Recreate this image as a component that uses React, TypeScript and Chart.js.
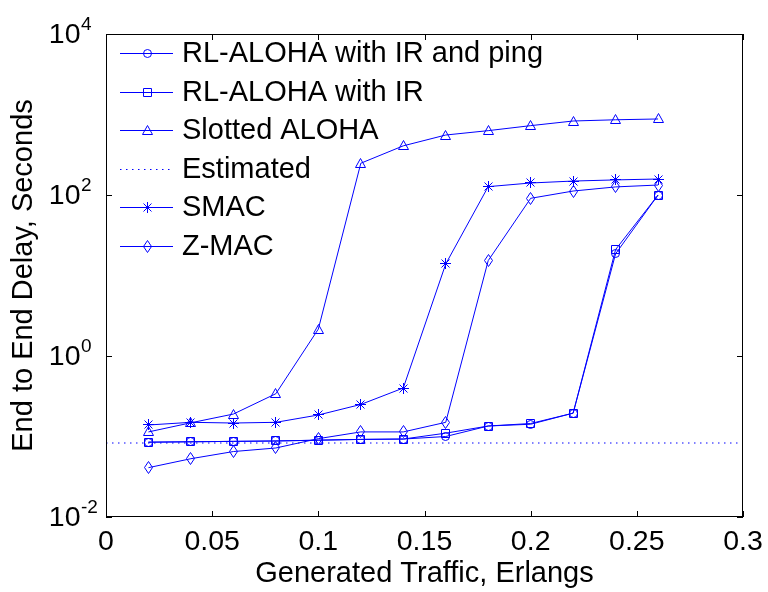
import React, { useEffect, useRef } from 'react';
import { Chart, registerables } from 'chart.js';

Chart.register(...registerables);

// ---- data ----
const traffic = [0.02, 0.04, 0.06, 0.08, 0.1, 0.12, 0.14, 0.16, 0.18, 0.2, 0.22, 0.24, 0.26];
const rlAlohaIrPing = [0.085, 0.086, 0.087, 0.088, 0.09, 0.092, 0.093, 0.1, 0.135, 0.142, 0.195, 18.6, 100];
const rlAlohaIr = [0.085, 0.086, 0.087, 0.088, 0.09, 0.092, 0.093, 0.11, 0.135, 0.145, 0.195, 21, 100];
const slottedAloha = [0.114, 0.148, 0.19, 0.34, 2.16, 248, 408, 556, 630, 727, 830, 860, 880];
const estimatedX = [0, 0.3];
const estimatedY = [0.083, 0.083];
const smac = [0.139, 0.15, 0.147, 0.15, 0.185, 0.25, 0.4, 13.9, 127, 141, 149, 154, 158];
const zmac = [0.041, 0.053, 0.065, 0.072, 0.094, 0.114, 0.114, 0.15, 15.3, 91, 112, 126, 133];

const seriesLabels = ['RL-ALOHA with IR and ping', 'RL-ALOHA with IR', 'Slotted ALOHA', 'Estimated', 'SMAC', 'Z-MAC'];

const xTicks = [0, 0.05, 0.1, 0.15, 0.2, 0.25, 0.3];
const xTickLabels = ['0', '0.05', '0.1', '0.15', '0.2', '0.25', '0.3'];
const yTicks = [0.01, 1, 100, 10000];
const yTickExponents = ['-2', '0', '2', '4'];

const BLUE = '#0000ff';
const FONT = "'Liberation Sans', Arial, sans-serif";
const FS = 29;
const TICK_FS = 28.5;

function makeMarker(kind: string): HTMLCanvasElement {
  const c = document.createElement('canvas');
  c.width = 15;
  c.height = 15;
  const g = c.getContext('2d')!;
  g.strokeStyle = BLUE;
  g.lineWidth = 1;
  g.beginPath();
  if (kind === 'circle') {
    g.arc(7.5, 7.5, 4, 0, Math.PI * 2);
  } else if (kind === 'square') {
    g.rect(3.5, 3.5, 8, 8);
  } else if (kind === 'triangle') {
    g.moveTo(7.5, 2.5);
    g.lineTo(12.5, 11.5);
    g.lineTo(2.5, 11.5);
    g.closePath();
  } else if (kind === 'asterisk') {
    g.moveTo(7.5, 2);
    g.lineTo(7.5, 13);
    g.moveTo(2, 7.5);
    g.lineTo(13, 7.5);
    g.moveTo(3.5, 3.5);
    g.lineTo(11.5, 11.5);
    g.moveTo(11.5, 3.5);
    g.lineTo(3.5, 11.5);
  } else if (kind === 'diamond') {
    g.moveTo(7.5, 1.5);
    g.lineTo(11.5, 7.5);
    g.lineTo(7.5, 13.5);
    g.lineTo(3.5, 7.5);
    g.closePath();
  }
  g.stroke();
  return c;
}

const decorPlugin = {
  id: 'decor',
  beforeDatasetsDraw(chart: any) {
    chart.ctx.imageSmoothingEnabled = false;
  },
  afterDraw(chart: any) {
    const { ctx, chartArea } = chart;
    const xs = chart.scales.x;
    const ys = chart.scales.y;
    const L = Math.round(chartArea.left);
    const R = Math.round(chartArea.right);
    const T = Math.round(chartArea.top);
    const B = Math.round(chartArea.bottom);
    ctx.save();
    ctx.imageSmoothingEnabled = false;
    // frame
    ctx.strokeStyle = '#000';
    ctx.lineWidth = 1;
    ctx.strokeRect(L + 0.5, T + 0.5, R - L - 1, B - T - 1);
    // ticks
    const tl = 6;
    ctx.beginPath();
    xTicks.forEach((v) => {
      const px = Math.round(xs.getPixelForValue(v)) + 0.5;
      ctx.moveTo(px, B);
      ctx.lineTo(px, B - tl);
      ctx.moveTo(px, T);
      ctx.lineTo(px, T + tl);
    });
    yTicks.forEach((v) => {
      const py = Math.round(ys.getPixelForValue(v)) + 0.5;
      ctx.moveTo(L, py);
      ctx.lineTo(L + tl, py);
      ctx.moveTo(R, py);
      ctx.lineTo(R - tl, py);
    });
    ctx.stroke();
    // y tick labels with superscripts
    ctx.fillStyle = '#000';
    yTicks.forEach((v, i) => {
      const py = ys.getPixelForValue(v);
      ctx.font = `${TICK_FS}px ${FONT}`;
      ctx.textAlign = 'right';
      ctx.textBaseline = 'middle';
      ctx.fillText('10', 80.5, py + 1);
      ctx.font = `19px ${FONT}`;
      ctx.textAlign = 'left';
      ctx.textBaseline = 'alphabetic';
      ctx.fillText(yTickExponents[i], 81, py - 4);
    });
    // legend
    const rowH = 38.5;
    chart.data.datasets.forEach((ds: any, i: number) => {
      const y = T + 19 + i * rowH;
      ctx.save();
      ctx.strokeStyle = BLUE;
      ctx.lineWidth = 1;
      if (ds.borderDash && ds.borderDash.length) ctx.setLineDash(ds.borderDash);
      ctx.beginPath();
      ctx.moveTo(120, Math.round(y) + 0.5);
      ctx.lineTo(173, Math.round(y) + 0.5);
      ctx.stroke();
      ctx.restore();
      if (ds.legendMarker) {
        const m = ds.legendMarker as HTMLCanvasElement;
        ctx.drawImage(m, Math.round(147 - m.width / 2), Math.round(y - m.height / 2 + 0.5));
      }
      ctx.fillStyle = '#000';
      ctx.font = `${FS}px ${FONT}`;
      ctx.textAlign = 'left';
      ctx.textBaseline = 'middle';
      ctx.fillText(ds.label, 182, y + 1);
    });
    ctx.restore();
  },
};

export default function App() {
  const ref = useRef<HTMLCanvasElement>(null);
  useEffect(() => {
    if (!ref.current) return;
    const mk = {
      circle: makeMarker('circle'),
      square: makeMarker('square'),
      triangle: makeMarker('triangle'),
      asterisk: makeMarker('asterisk'),
      diamond: makeMarker('diamond'),
    };
    const pts = (ys: number[]) => traffic.map((x, i) => ({ x, y: ys[i] }));
    const base = {
      borderColor: BLUE,
      backgroundColor: 'transparent',
      borderWidth: 1,
      tension: 0,
      fill: false,
    };
    const chart = new Chart(ref.current, {
      type: 'line',
      data: {
        datasets: [
          { ...base, label: seriesLabels[0], data: pts(rlAlohaIrPing), pointStyle: mk.circle, legendMarker: mk.circle },
          { ...base, label: seriesLabels[1], data: pts(rlAlohaIr), pointStyle: mk.square, legendMarker: mk.square },
          { ...base, label: seriesLabels[2], data: pts(slottedAloha), pointStyle: mk.triangle, legendMarker: mk.triangle },
          {
            ...base,
            label: seriesLabels[3],
            data: estimatedX.map((x, i) => ({ x, y: estimatedY[i] })),
            borderDash: [1.5, 4.5],
            pointRadius: 0,
          },
          { ...base, label: seriesLabels[4], data: pts(smac), pointStyle: mk.asterisk, legendMarker: mk.asterisk },
          { ...base, label: seriesLabels[5], data: pts(zmac), pointStyle: mk.diamond, legendMarker: mk.diamond },
        ] as any,
      },
      options: {
        animation: false,
        responsive: false,
        events: [],
        layout: { padding: { top: 34, right: 25, left: 0, bottom: 0 } },
        plugins: { legend: { display: false }, tooltip: { enabled: false } },
        scales: {
          x: {
            type: 'linear',
            min: 0,
            max: 0.3,
            afterBuildTicks: (s: any) => {
              s.ticks = xTicks.map((v) => ({ value: v }));
            },
            afterFit: (s: any) => {
              s.height = 75;
            },
            grid: { display: false },
            border: { display: false },
            ticks: {
              color: '#000',
              font: { family: FONT, size: TICK_FS },
              padding: 0,
              maxRotation: 0,
              autoSkip: false,
              callback: (v: any) => {
                const i = xTicks.findIndex((t) => Math.abs(t - Number(v)) < 1e-9);
                return i >= 0 ? xTickLabels[i] : '';
              },
            },
            title: {
              display: true,
              text: 'Generated Traffic, Erlangs',
              color: '#000',
              font: { family: FONT, size: FS },
              padding: { top: 0, bottom: 1 },
            },
          },
          y: {
            type: 'logarithmic',
            min: 0.01,
            max: 10000,
            afterBuildTicks: (s: any) => {
              s.ticks = yTicks.map((v) => ({ value: v }));
            },
            afterFit: (s: any) => {
              s.width = 106;
            },
            grid: { display: false },
            border: { display: false },
            ticks: { display: false },
            title: {
              display: true,
              text: 'End to End Delay, Seconds',
              color: '#000',
              font: { family: FONT, size: FS },
              padding: { top: 7, bottom: 0 },
            },
          },
        },
      } as any,
      plugins: [decorPlugin],
    });
    return () => chart.destroy();
  }, []);
  return (
    <div style={{ position: 'absolute', left: 0, top: 0, width: 768, height: 592, background: '#fff' }}>
      <canvas ref={ref} width={768} height={592} style={{ display: 'block' }} />
    </div>
  );
}
